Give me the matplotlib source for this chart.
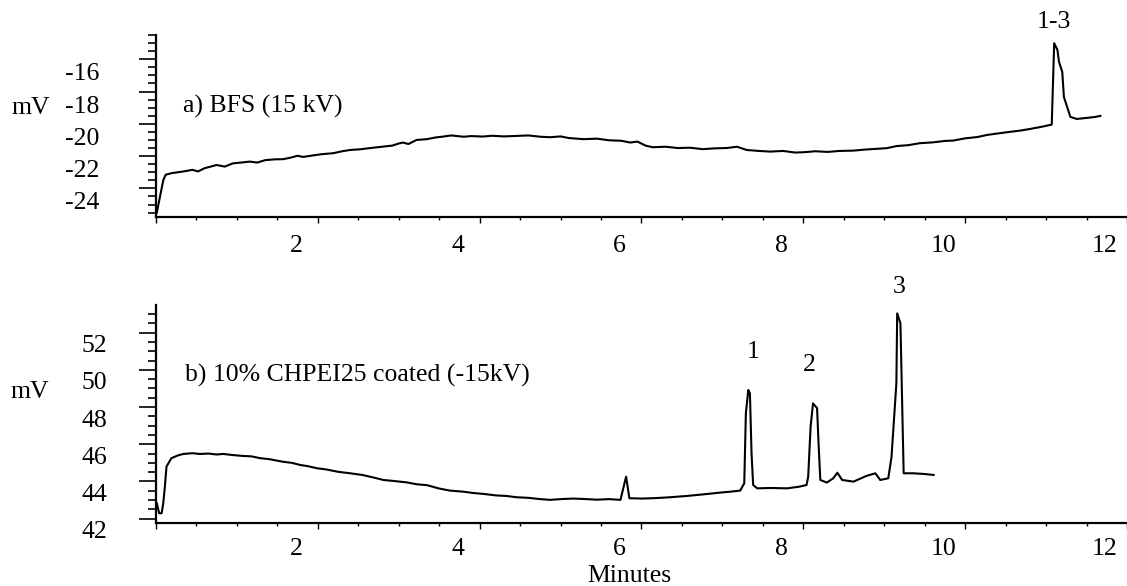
import matplotlib
matplotlib.use('Agg')
import matplotlib.pyplot as plt
from matplotlib.ticker import MultipleLocator, FixedLocator
from matplotlib.transforms import ScaledTranslation

plt.rcParams['font.family'] = ['Liberation Serif', 'DejaVu Serif']

# a) bare fused silica, +15 kV (time in min, signal in mV)
t_a = [0.01, 0.09, 0.12, 0.20, 0.34, 0.45, 0.52, 0.60, 0.75, 0.85, 0.95, 1.05,
       1.16, 1.25, 1.35, 1.47, 1.57, 1.66, 1.75, 1.82, 1.95, 2.05, 2.19, 2.30,
       2.40, 2.52, 2.65, 2.81, 2.92, 3.00, 3.05, 3.12, 3.22, 3.35, 3.45, 3.55,
       3.65, 3.80, 3.90, 4.04, 4.15, 4.30, 4.46, 4.60, 4.75, 4.87, 5.00, 5.10,
       5.28, 5.45, 5.60, 5.75, 5.86, 5.95, 6.05, 6.14, 6.30, 6.45, 6.60, 6.76,
       6.90, 7.05, 7.18, 7.30, 7.45, 7.59, 7.75, 7.90, 8.00, 8.15, 8.30, 8.45,
       8.62, 8.75, 8.90, 9.03, 9.15, 9.30, 9.44, 9.60, 9.75, 9.85, 10.00, 10.15,
       10.27, 10.40, 10.55, 10.68, 10.80, 10.95, 11.05, 11.07, 11.10, 11.14,
       11.16, 11.20, 11.22, 11.26, 11.30, 11.38, 11.51, 11.60, 11.67]
mv_a = [-25.50, -23.50, -23.15, -23.05, -22.95, -22.85, -22.95, -22.75, -22.55,
        -22.65, -22.45, -22.40, -22.34, -22.40, -22.25, -22.20, -22.19, -22.10,
        -21.98, -22.05, -21.95, -21.88, -21.82, -21.70, -21.62, -21.58, -21.50,
        -21.41, -21.35, -21.22, -21.16, -21.25, -21.00, -20.95, -20.85, -20.79,
        -20.72, -20.80, -20.76, -20.79, -20.74, -20.78, -20.75, -20.72, -20.80,
        -20.83, -20.78, -20.88, -20.95, -20.92, -21.02, -21.05, -21.16, -21.10,
        -21.35, -21.45, -21.42, -21.50, -21.48, -21.57, -21.52, -21.50, -21.42,
        -21.62, -21.68, -21.72, -21.68, -21.78, -21.76, -21.70, -21.74, -21.68,
        -21.66, -21.60, -21.55, -21.51, -21.38, -21.32, -21.20, -21.15, -21.06,
        -21.04, -20.90, -20.82, -20.69, -20.60, -20.50, -20.42, -20.32, -20.18,
        -20.07, -20.05, -15.01, -15.42, -16.17, -16.79, -18.34, -18.95, -19.57,
        -19.70, -19.63, -19.58, -19.51]

# b) 10% CHPEI25 coated, -15 kV
t_b = [0.01, 0.04, 0.07, 0.09, 0.11, 0.13, 0.19, 0.27, 0.34, 0.45, 0.54, 0.65,
       0.75, 0.83, 0.95, 1.08, 1.18, 1.29, 1.40, 1.57, 1.68, 1.78, 1.88, 1.99,
       2.10, 2.25, 2.40, 2.55, 2.70, 2.81, 2.95, 3.10, 3.22, 3.35, 3.50, 3.63,
       3.80, 3.92, 4.05, 4.20, 4.33, 4.46, 4.60, 4.75, 4.87, 5.00, 5.15, 5.28,
       5.45, 5.60, 5.74, 5.81, 5.85, 6.00, 6.15, 6.35, 6.56, 6.75, 6.97, 7.10,
       7.22, 7.27, 7.29, 7.32, 7.34, 7.36, 7.38, 7.43, 7.60, 7.80, 7.95, 8.04,
       8.06, 8.09, 8.12, 8.17, 8.19, 8.21, 8.29, 8.37, 8.42, 8.48, 8.62, 8.78,
       8.89, 8.95, 9.05, 9.09, 9.15, 9.16, 9.20, 9.24, 9.36, 9.50, 9.61]
mv_b = [42.83, 42.29, 42.29, 42.83, 43.72, 44.80, 45.25, 45.40, 45.48, 45.52,
        45.48, 45.50, 45.45, 45.48, 45.42, 45.37, 45.35, 45.25, 45.20, 45.06,
        45.00, 44.89, 44.82, 44.71, 44.65, 44.52, 44.44, 44.35, 44.20, 44.08,
        44.02, 43.95, 43.85, 43.80, 43.62, 43.51, 43.45, 43.38, 43.33, 43.25,
        43.22, 43.15, 43.12, 43.05, 43.01, 43.05, 43.08, 43.06, 43.02, 43.05,
        43.01, 44.26, 43.10, 43.08, 43.10, 43.15, 43.22, 43.30, 43.40, 43.45,
        43.51, 43.90, 47.67, 48.92, 48.74, 45.52, 43.81, 43.63, 43.65, 43.63,
        43.72, 43.81, 44.26, 46.95, 48.20, 47.94, 45.87, 44.08, 43.94, 44.17,
        44.47, 44.08, 43.99, 44.30, 44.44, 44.08, 44.17, 45.33, 49.28, 53.04,
        52.51, 44.44, 44.44, 44.40, 44.35]

x_ticks = [0, 2, 4, 6, 8, 10, 12]
x_labels = ['', '2', '4', '6', '8', '10', '12']
ya_ticks = [-24, -22, -20, -18, -16]
yb_ticks = [42, 44, 46, 48, 50, 52]

fig = plt.figure(figsize=(11.27, 5.86), dpi=100)
ax_a = fig.add_axes([0.1384, 0.6297, 0.8616, 0.3106])
ax_b = fig.add_axes([0.1384, 0.1070, 0.8616, 0.3725])

fs = 18.5


def style_axes(ax, yticks, ylim, ypad, xpad, ydrop):
    ax.set_xlim(0, 12.0)
    ax.set_ylim(*ylim)
    for side in ['top', 'right']:
        ax.spines[side].set_visible(False)
    for side in ['left', 'bottom']:
        ax.spines[side].set_linewidth(1.6)
    ax.xaxis.set_major_locator(FixedLocator(x_ticks))
    ax.set_xticklabels(x_labels)
    ax.xaxis.set_minor_locator(MultipleLocator(0.5))
    ax.yaxis.set_major_locator(FixedLocator(yticks))
    ax.set_yticklabels([str(v) for v in yticks])
    ax.yaxis.set_minor_locator(MultipleLocator(0.5))
    ax.tick_params(axis='x', which='major', length=4.3, width=1.0,
                   labelsize=fs, pad=xpad, direction='out')
    ax.tick_params(axis='x', which='minor', length=2.5, width=1.0,
                   direction='out')
    ax.tick_params(axis='y', which='major', length=12.2, width=1.2,
                   labelsize=fs, pad=ypad, direction='out')
    ax.tick_params(axis='y', which='minor', length=6.1, width=1.2,
                   direction='out')
    # tick labels sit left of / below their tick marks
    sx = ScaledTranslation(-0.22, 0, fig.dpi_scale_trans)
    for lab in ax.get_xticklabels():
        lab.set_transform(lab.get_transform() + sx)
    sy = ScaledTranslation(0, -ydrop / 100.0, fig.dpi_scale_trans)
    for lab in ax.get_yticklabels():
        lab.set_transform(lab.get_transform() + sy)


style_axes(ax_a, ya_ticks, (-25.77, -14.5), 28.8, 9.0, 12.5)
style_axes(ax_b, yb_ticks, (41.75, 53.49), 23.0, 6.5, 11.0)

ax_a.plot(t_a, mv_a, color='black', lw=1.5)
ax_b.plot(t_b, mv_b, color='black', lw=1.5)

# labels
ax_a.set_ylabel('mV', rotation=0, fontsize=fs, va='center', ha='center')
ax_a.yaxis.set_label_coords(-0.1287, 0.60)
ax_b.set_ylabel('mV', rotation=0, fontsize=fs, va='center', ha='center')
ax_b.yaxis.set_label_coords(-0.130, 0.60)
ax_b.set_xlabel('Minutes', fontsize=fs)
ax_b.xaxis.label.set_va('baseline')
ax_b.xaxis.set_label_coords(0.488, -0.269)

ax_a.text(0.33, -19.33, 'a) BFS (15 kV)', fontsize=fs, va='baseline')
ax_b.text(0.36, 49.37, 'b) 10% CHPEI25 coated (-15kV)', fontsize=fs,
          va='baseline')

ax_a.text(11.09, -13.67, '1-3', fontsize=fs, ha='center', va='center')
ax_b.text(7.38, 50.98, '1', fontsize=fs, ha='center', va='center')
ax_b.text(8.07, 50.26, '2', fontsize=fs, ha='center', va='center')
ax_b.text(9.19, 54.47, '3', fontsize=fs, ha='center', va='center')

fig.savefig('out.png', dpi=100)
